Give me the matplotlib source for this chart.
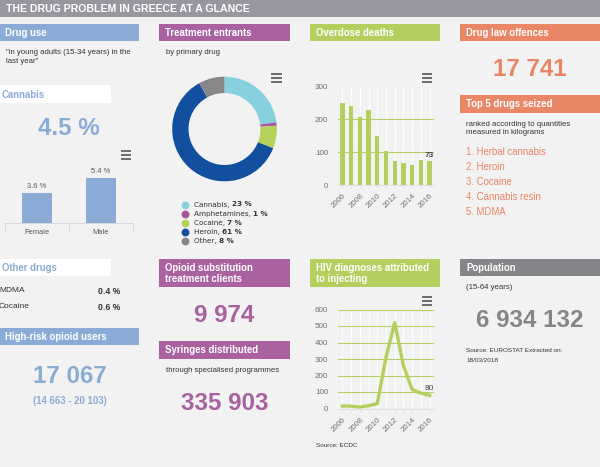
import matplotlib
matplotlib.use("Agg")
import matplotlib.pyplot as plt

W, H = 600, 467
BG = '#f2f2f2'
BLUE = '#8aabd6'
PURPLE = '#a9619f'
GREEN = '#b5cf5e'
ORANGE = '#e98665'
GREY = '#86868a'
TICK = '#6f6f6f'

use_labels = ['Female', 'Male']
use_values = [3.6, 5.4]
use_text = ['3.6 %', '5.4 %']

drug_names = ['Cannabis', 'Amphetamines', 'Cocaine', 'Heroin', 'Other']
drug_shares = [23, 1, 7, 61, 8]
drug_colors = ['#87d0dd', '#a9549f', '#b5d35a', '#12509f', '#87878a']

years = [2006, 2007, 2008, 2009, 2010, 2011, 2012, 2013, 2014, 2015, 2016]
year_ticks = [2006, 2008, 2010, 2012, 2014, 2016]
deaths = [250, 240, 207, 227, 150, 105, 72, 66, 61, 76, 73]
hiv = [15, 14, 9, 17, 30, 310, 520, 260, 115, 93, 80]

seized = ['1. Herbal cannabis', '2. Heroin', '3. Cocaine', '4. Cannabis resin', '5. MDMA']
other_drugs = ['MDMA', 'Cocaine']
other_values = ['0.4 %', '0.6 %']

plt.rcParams['font.family'] = ['Liberation Sans', 'DejaVu Sans']

fig = plt.figure(figsize=(W / 100, H / 100), dpi=100, facecolor=BG)

# overlay in pixel coordinates for the panels and text
bg = fig.add_axes([0, 0, 1, 1])
bg.set_xlim(0, W)
bg.set_ylim(H, 0)
bg.axis('off')


def px_axes(x0, y0, x1, y1):
    # y0 top, y1 bottom, in pixels
    ax = fig.add_axes([x0 / W, 1 - y1 / H, (x1 - x0) / W, (y1 - y0) / H])
    ax.set_facecolor('none')
    return ax


def box(x0, y0, x1, y1, color, lines, tcolor='white', tx=None, size=6.95):
    bg.fill_between([x0, x1], y0, y1, color=color, lw=0)
    tx = x0 + 6 if tx is None else tx
    n = len(lines)
    yc = (y0 + y1) / 2 + 0.7
    for i, s in enumerate(lines):
        bg.text(tx, yc + (i - (n - 1) / 2) * 11, s, color=tcolor, fontsize=size,
                fontweight='bold', va='center', ha='left')


def note(x, y, s, color='#333333', size=5.6, **kw):
    bg.text(x, y + 0.5, s, color=color, fontsize=size, va='center', **kw)


def big(x, y, s, color, size=17.4):
    bg.text(x, y + 1.3, s, color=color, fontsize=size, fontweight='bold', va='center', ha='center')


def burger(x0, x1, y):
    for dy in (-4, 0, 4):
        bg.plot([x0, x1], [y + dy, y + dy], color='#555555', lw=1.2, solid_capstyle='butt')


# header
bg.fill_between([0, W], 0, 17, color='#98969e', lw=0)
bg.text(6, 8.5, 'THE DRUG PROBLEM IN GREECE AT A GLANCE', color='white', fontsize=7.55,
        fontweight='bold', va='center')

# left column
box(0, 23.5, 139, 41, BLUE, ['Drug use'], tx=5)
note(5.5, 52, '"in young adults (15-34 years) in the')
note(5.5, 61, 'last year"')
box(0, 85, 111, 103, 'white', ['Cannabis'], tcolor=BLUE, tx=2)
big(68.5, 127, '4.5 %', BLUE)
burger(120.5, 131, 154.5)

ax = px_axes(5, 170, 133, 223)
ax.bar(range(2), use_values, width=0.48, color=BLUE)
ax.set_xlim(-0.5, 1.5)
ax.set_ylim(0, 6.36)
for i, v in enumerate(use_values):
    ax.text(i, v + 0.35, use_text[i], ha='center', va='bottom', fontsize=5.4, color='#555555')
ax.set_yticks([])
ax.set_xticks([-0.5, 0.5, 1.5])
ax.set_xticklabels([])
ax.set_xticks([0, 1], labels=use_labels, minor=True)
ax.tick_params(axis='x', which='major', length=6, width=0.6, color='#cfd3dc')
ax.tick_params(axis='x', which='minor', length=0, pad=4, labelsize=5.4, labelcolor='#555555')
for k in ['top', 'left', 'right']:
    ax.spines[k].set_visible(False)
ax.spines['bottom'].set_color('#cfd3dc')
ax.spines['bottom'].set_linewidth(0.6)

box(0, 258.5, 111, 276, 'white', ['Other drugs'], tcolor=BLUE, tx=2)
for i in range(2):
    note(-1, 290.5 + i * 16, other_drugs[i], size=6)
    note(97.5, 290.5 + i * 16, other_values[i], size=6.2, fontweight='bold')
box(0, 327.5, 139, 345, BLUE, ['High-risk opioid users'], tx=5)
big(69.5, 375.5, '17 067', BLUE)
bg.text(69.5, 401, '(14 663 - 20 103)', color=BLUE, fontsize=6.9, fontweight='bold',
        va='center', ha='center')

# second column
box(159, 23.5, 290, 41, PURPLE, ['Treatment entrants'])
note(165.5, 52, 'by primary drug')
burger(271, 281.5, 77.5)

ax = px_axes(170, 74.5, 279, 183.5)
ax.pie(drug_shares, colors=drug_colors, startangle=90, counterclock=False, radius=0.96,
       wedgeprops={'width': 0.3, 'linewidth': 0})
ax.set_xlim(-1, 1)
ax.set_ylim(-1, 1)

for i, name in enumerate(drug_names):
    y = 204.5 + i * 9.2
    bg.scatter([185], [y], s=32, color=drug_colors[i], lw=0, zorder=3)
    t = bg.text(193.5, y, name + ', ', fontsize=5.2, color='#333333', va='center',
                family=['DejaVu Sans'])
    # share in bold, placed after the name
    fig.canvas.draw()
    ext = t.get_window_extent().transformed(bg.transData.inverted())
    bg.text(ext.x1 + 0.5, y, f'{drug_shares[i]} %', fontsize=5.2, fontweight='bold',
            color='#333333', va='center', family=['DejaVu Sans'])

box(159, 258.5, 290, 287, PURPLE, ['Opioid substitution', 'treatment clients'])
big(224.5, 314.5, '9 974', PURPLE)
box(159, 341, 290, 358.5, PURPLE, ['Syringes distributed'])
note(165.5, 370, 'through specialised programmes')
big(224.5, 402, '335 903', PURPLE)


# third column, two small year charts
def year_axes(y0, y1):
    ax = px_axes(338, y0, 434, y1)
    ax.set_xlim(2005.5, 2016.5)
    ax.set_xticks(year_ticks)
    ax.set_xticklabels(year_ticks, rotation=45, ha='right', rotation_mode='anchor',
                       fontsize=5.6, color=TICK)
    ax.set_xticks(years, minor=True)
    ax.tick_params(axis='x', which='both', length=2, width=0.5, color='#d8dce6')
    ax.tick_params(axis='y', length=0, labelsize=5.8, labelcolor=TICK, pad=7)
    ax.grid(axis='x', color='white', lw=0.7, which='both')
    ax.grid(axis='y', color=GREEN, lw=0.8)
    ax.set_axisbelow(True)
    for k in ['top', 'left', 'right']:
        ax.spines[k].set_visible(False)
    ax.spines['bottom'].set_color('#d8dce6')
    ax.spines['bottom'].set_linewidth(0.6)
    return ax


box(309.5, 23.5, 440, 41, GREEN, ['Overdose deaths'])
burger(421.5, 432, 77.5)
ax = year_axes(86.5, 185)
ax.bar(years, deaths, width=0.5, color=GREEN, zorder=2)
ax.set_ylim(0, 300)
ax.set_yticks([0, 100, 200, 300])
ax.text(2016, deaths[-1] + 6, str(deaths[-1]), ha='center', va='bottom', fontsize=6,
        color='#444444', fontweight='bold')

box(309.5, 258.5, 440, 287, GREEN, ['HIV diagnoses attributed', 'to injecting'])
burger(421.5, 432, 301)
ax = year_axes(309.5, 408.5)
ax.plot(years, hiv, color=GREEN, lw=2.4, zorder=3, solid_joinstyle='round')
ax.set_ylim(0, 600)
ax.set_yticks(range(0, 601, 100))
ax.text(2016, hiv[-1] + 18, str(hiv[-1]), ha='center', va='bottom', fontsize=6, color='#444444')
note(316, 445, 'Source: ECDC', size=4.6)

# right column
box(460, 23.5, 600, 41, ORANGE, ['Drug law offences'])
big(530, 68.5, '17 741', ORANGE)
box(460, 95, 600, 112.5, ORANGE, ['Top 5 drugs seized'])
note(466.5, 123.5, 'ranked according to quantities')
note(466.5, 132.5, 'measured in kilograms')
for i, s in enumerate(seized):
    note(466, 151.5 + i * 15, s, color=ORANGE, size=6.9)

box(460, 258.5, 600, 276, GREY, ['Population'])
note(466.5, 287, '(15-64 years)')
big(530, 319, '6 934 132', GREY)
note(466.5, 350.5, 'Source: EUROSTAT Extracted on:', size=4.6)
note(466.5, 359.5, '18/03/2018', size=4.6)

fig.savefig('out.png', dpi=100, facecolor=BG)
